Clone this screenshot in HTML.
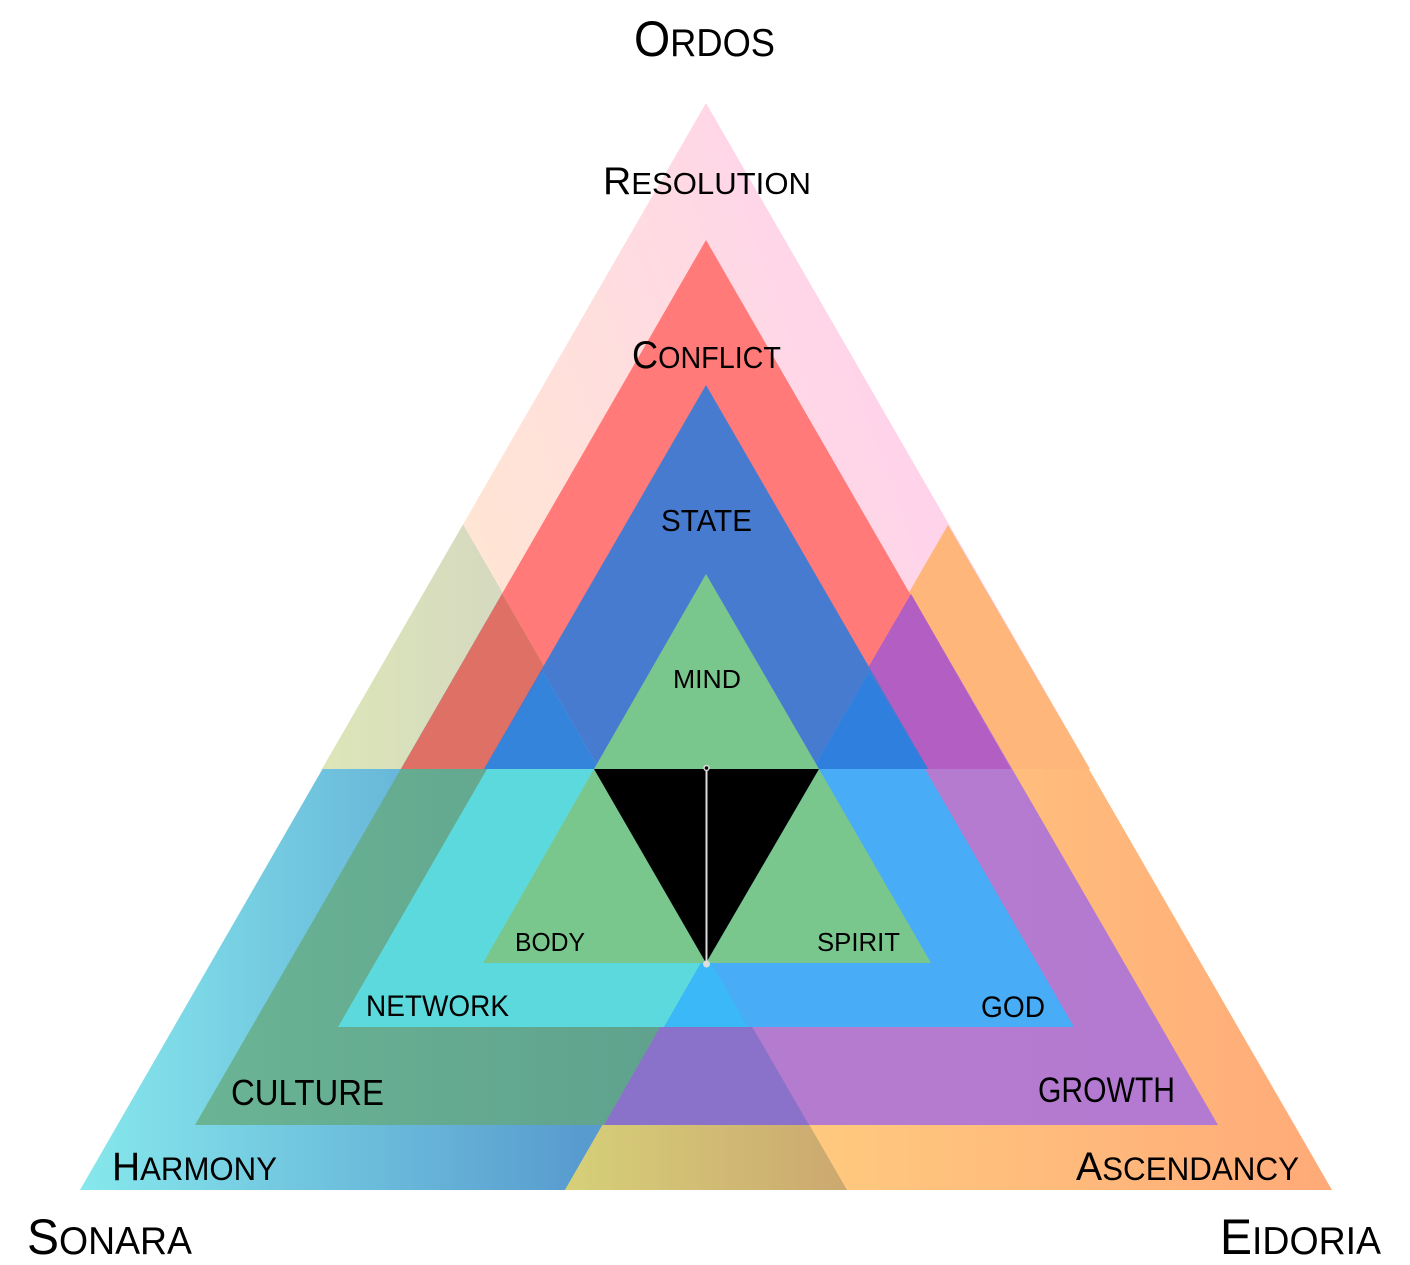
<!DOCTYPE html>
<html><head><meta charset="utf-8"><style>
html,body{margin:0;padding:0;background:#fff;}
svg{display:block;}
text{font-family:"Liberation Sans",sans-serif;fill:#000;}
</style></head><body>
<svg width="1410" height="1265" viewBox="0 0 1410 1265" xmlns="http://www.w3.org/2000/svg">
<defs>
<linearGradient id="gTop" x1="322" y1="769" x2="1090" y2="500" gradientUnits="userSpaceOnUse">
<stop offset="0" stop-color="#ffedc8"/><stop offset="0.5" stop-color="#ffdede"/><stop offset="1" stop-color="#ffcdf2"/></linearGradient>
<linearGradient id="gLeft" x1="80" y1="0" x2="847" y2="0" gradientUnits="userSpaceOnUse">
<stop offset="0" stop-color="#86e8ec"/><stop offset="0.65" stop-color="#589ccf"/><stop offset="1" stop-color="#5090cc"/></linearGradient>
<linearGradient id="gLeftUp" x1="322" y1="0" x2="604" y2="0" gradientUnits="userSpaceOnUse">
<stop offset="0" stop-color="#dce6b8"/><stop offset="1" stop-color="#d2d2c4"/></linearGradient>
<linearGradient id="gRight" x1="565" y1="0" x2="1332" y2="0" gradientUnits="userSpaceOnUse">
<stop offset="0" stop-color="#ffd882"/><stop offset="1" stop-color="#ffaa78"/></linearGradient>
<linearGradient id="gBot" x1="565" y1="0" x2="847" y2="0" gradientUnits="userSpaceOnUse">
<stop offset="0" stop-color="#d6d078"/><stop offset="1" stop-color="#cca870"/></linearGradient>
<linearGradient id="gCult" x1="195" y1="0" x2="809" y2="0" gradientUnits="userSpaceOnUse">
<stop offset="0" stop-color="#6ab494"/><stop offset="1" stop-color="#5c9c8c"/></linearGradient>
<linearGradient id="gGrow" x1="604" y1="0" x2="1218" y2="0" gradientUnits="userSpaceOnUse">
<stop offset="0" stop-color="#b47ccc"/><stop offset="1" stop-color="#b47ad2"/></linearGradient>
</defs>
<polygon points="706,103 322,769 1090,769" fill="url(#gTop)"/>
<polygon points="463,525 80,1190 847,1190" fill="url(#gLeft)"/>
<polygon points="463,525 322,769 604,769" fill="url(#gLeftUp)"/>
<polygon points="948,525 565,1190 1332,1190" fill="url(#gRight)"/>
<polygon points="948,525 807,769 1090,769" fill="#ffb67a"/>
<polygon points="706,946 565,1190 847,1190" fill="url(#gBot)"/>
<polygon points="706,240 401,769 1011,769" fill="#ff7a78"/>
<polygon points="502,594 195,1125 809,1125" fill="url(#gCult)"/>
<polygon points="502,594 401,769 603,769" fill="#de7066"/>
<polygon points="911,594 604,1125 1218,1125" fill="url(#gGrow)"/>
<polygon points="911,594 809,769 1011,769" fill="#b25ec2"/>
<polygon points="706,947 604,1125 809,1125" fill="#8a72ca"/>
<polygon points="706,385 484,769 928,769" fill="#477bd0"/>
<polygon points="543,672 338,1027 748,1027" fill="#5cd9dc"/>
<polygon points="543,672 484,769 599,769" fill="#3584dc"/>
<polygon points="869,672 664,1027 1074,1027" fill="#48acf6"/>
<polygon points="869,672 813,769 928,769" fill="#2f80de"/>
<polygon points="706,954 664,1027 748,1027" fill="#3ab8f8"/>
<polygon points="706,574 594,769 819,769" fill="#7ac78e"/>
<polygon points="594,769 483,963 706,963" fill="#7ac78e"/>
<polygon points="819,769 706,963 931,963" fill="#7ac78e"/>
<polygon points="594,769 819,769 706,963" fill="#000"/>
<line x1="706.5" y1="768" x2="706.5" y2="964" stroke="#ddd" stroke-width="2"/>
<circle cx="706.5" cy="768" r="2.5" fill="#000" stroke="#ddd" stroke-width="1.5"/>
<circle cx="706.5" cy="964" r="3.5" fill="#ddd"/>
<text x="634" y="56" font-size="50" textLength="141" lengthAdjust="spacingAndGlyphs">O<tspan font-size="39">RDOS</tspan></text>
<text x="603" y="194" font-size="39" textLength="208" lengthAdjust="spacingAndGlyphs">R<tspan font-size="31">ESOLUTION</tspan></text>
<text x="632" y="368" font-size="39" textLength="149" lengthAdjust="spacingAndGlyphs">C<tspan font-size="31">ONFLICT</tspan></text>
<text x="661" y="531" font-size="31" textLength="91" lengthAdjust="spacingAndGlyphs">STATE</text>
<text x="673" y="688" font-size="26" textLength="68" lengthAdjust="spacingAndGlyphs">MIND</text>
<text x="515" y="951" font-size="26" textLength="70" lengthAdjust="spacingAndGlyphs">BODY</text>
<text x="817" y="951" font-size="26" textLength="83" lengthAdjust="spacingAndGlyphs">SPIRIT</text>
<text x="366" y="1016" font-size="30" textLength="143" lengthAdjust="spacingAndGlyphs">NETWORK</text>
<text x="981" y="1017" font-size="30" textLength="64" lengthAdjust="spacingAndGlyphs">GOD</text>
<text x="231" y="1105" font-size="36" textLength="153" lengthAdjust="spacingAndGlyphs">CULTURE</text>
<text x="1038" y="1102" font-size="35" textLength="137" lengthAdjust="spacingAndGlyphs">GROWTH</text>
<text x="112" y="1180" font-size="40" textLength="165" lengthAdjust="spacingAndGlyphs">H<tspan font-size="32">ARMONY</tspan></text>
<text x="1076" y="1180" font-size="40" textLength="223" lengthAdjust="spacingAndGlyphs">A<tspan font-size="32">SCENDANCY</tspan></text>
<text x="27" y="1254" font-size="50" textLength="165" lengthAdjust="spacingAndGlyphs">S<tspan font-size="39">ONARA</tspan></text>
<text x="1220" y="1254" font-size="50" textLength="161" lengthAdjust="spacingAndGlyphs">E<tspan font-size="39">IDORIA</tspan></text>
</svg>
</body></html>
